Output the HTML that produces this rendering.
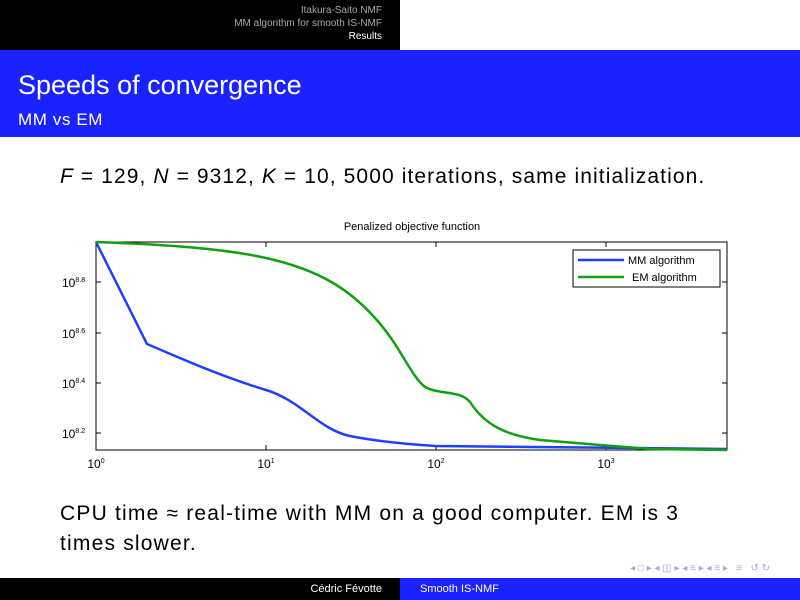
<!DOCTYPE html>
<html><head><meta charset="utf-8"><style>
body{margin:0;width:800px;height:600px;position:relative;background:#fff;font-family:"Liberation Sans",sans-serif;overflow:hidden}
.top{position:absolute;left:0;top:0;width:400px;height:50px;background:#000;color:#aaa;font-size:10px;text-align:right}
.top div{padding-right:18px;line-height:13px}
.bar{position:absolute;left:0;top:50px;width:800px;height:87px;background:#1a22ff;color:#fff}
.foot{position:absolute;left:0;top:578px;width:800px;height:22px;background:#000;color:#fff;font-size:11px}
.t{position:absolute;white-space:nowrap}
</style></head><body>
<div class="top"><div style="padding-top:4px">Itakura-Saito NMF</div><div>MM algorithm for smooth IS-NMF</div><div style="color:#fff">Results</div></div>
<div class="bar"><div class="t" style="left:18px;top:20px;font-size:27px">Speeds of convergence</div><div class="t" style="left:18px;top:60px;font-size:17px;letter-spacing:0.6px">MM vs EM</div></div>
<div class="t" style="left:60px;top:165px;font-size:21px;letter-spacing:1.1px"><i>F</i> = 129, <i>N</i> = 9312, <i>K</i> = 10, 5000 iterations, same initialization.</div>
<svg style="position:absolute;left:0;top:0" width="800" height="600" font-family="Liberation Sans,sans-serif">
<text x="412" y="230" font-size="11" text-anchor="middle">Penalized objective function</text>
<rect x="96" y="242" width="631" height="208" fill="none" stroke="#000" stroke-width="1"/>
<g stroke="#000" stroke-width="1">
<line x1="266" y1="450" x2="266" y2="445"/><line x1="436" y1="450" x2="436" y2="445"/><line x1="606" y1="450" x2="606" y2="445"/>
<line x1="266" y1="242" x2="266" y2="247"/><line x1="436" y1="242" x2="436" y2="247"/><line x1="606" y1="242" x2="606" y2="247"/>
<line x1="96" y1="282" x2="101" y2="282"/><line x1="96" y1="333" x2="101" y2="333"/><line x1="96" y1="383" x2="101" y2="383"/><line x1="96" y1="433" x2="101" y2="433"/>
<line x1="727" y1="282" x2="722" y2="282"/><line x1="727" y1="333" x2="722" y2="333"/><line x1="727" y1="383" x2="722" y2="383"/><line x1="727" y1="433" x2="722" y2="433"/>
</g>
<g font-size="12" text-anchor="middle"><text x="96" y="468">10<tspan font-size="7" dy="-5">0</tspan></text><text x="266" y="468">10<tspan font-size="7" dy="-5">1</tspan></text><text x="436" y="468">10<tspan font-size="7" dy="-5">2</tspan></text><text x="606" y="468">10<tspan font-size="7" dy="-5">3</tspan></text></g>
<g font-size="12"><text x="62" y="287">10<tspan font-size="7" dy="-5">8.8</tspan></text><text x="62" y="338">10<tspan font-size="7" dy="-5">8.6</tspan></text><text x="62" y="388">10<tspan font-size="7" dy="-5">8.4</tspan></text><text x="62" y="438">10<tspan font-size="7" dy="-5">8.2</tspan></text></g>
<path fill="none" stroke="#1f3fff" stroke-width="2.5" d="M96,242 L147,344 C180,358 220,376 266,390 C300,400 320,430 350,436 C380,442 420,445 436,446 L727,449"/>
<path fill="none" stroke="#10a010" stroke-width="2.5" d="M96,242 C180,245 230,250 266,258 C320,270 350,290 375,318 C400,345 410,375 425,387 C440,395 460,390 470,402 C485,425 505,435 540,440 L600,445 L650,449 L727,450"/>
<rect x="573" y="250" width="147" height="37" fill="#fff" stroke="#000"/>
<line x1="578" y1="260" x2="624" y2="260" stroke="#1f3fff" stroke-width="2.5"/><text x="628" y="264" font-size="11">MM algorithm</text>
<line x1="578" y1="277" x2="624" y2="277" stroke="#10a010" stroke-width="2.5"/><text x="632" y="281" font-size="11">EM algorithm</text>
<text x="770" y="571" font-size="10" fill="#aac" text-anchor="end">◂ □ ▸ ◂ ◫ ▸ ◂ ≡ ▸ ◂ ≡ ▸ &#160; ≡ &#160; ↺ ↻</text>
</svg>
<div class="t" style="left:60px;top:502px;font-size:21px;letter-spacing:1.2px">CPU time ≈ real-time with MM on a good computer. EM is 3</div>
<div class="t" style="left:60px;top:532px;font-size:21px;letter-spacing:1.2px">times slower.</div>
<div class="foot"><div style="position:absolute;left:0;width:400px;height:22px;background:#000;text-align:right"><span style="padding-right:18px;line-height:22px">Cédric Févotte</span></div><div style="position:absolute;left:400px;width:400px;height:22px;background:#1a22ff;line-height:22px"><span style="padding-left:20px">Smooth IS-NMF</span></div></div>
</body></html>
